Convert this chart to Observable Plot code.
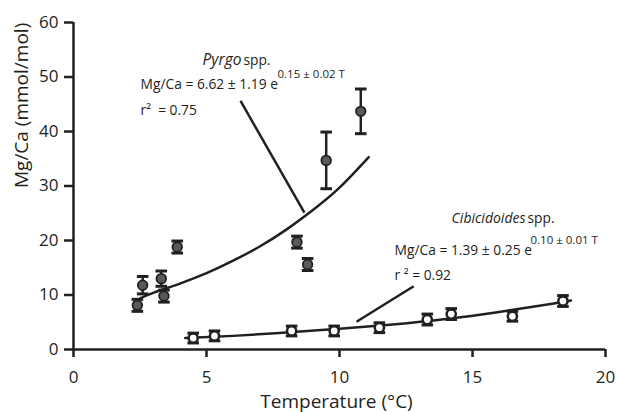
<!DOCTYPE html>
<html><head><meta charset="utf-8">
<script src="https://cdn.jsdelivr.net/npm/d3@7"></script>
<script src="https://cdn.jsdelivr.net/npm/@observablehq/plot@0.6"></script>
<style>body{margin:0;background:#fff}</style>
</head><body><div id="chart"></div>
<script>
// ---- data ----
const xTicks = [0, 5, 10, 15, 20];
const yTicks = [0, 10, 20, 30, 40, 50, 60];

// Pyrgo spp. (grey dots)
const pyrgoT     = [2.4, 2.6, 3.3, 3.4, 3.9, 8.4, 8.8, 9.5, 10.8];
const pyrgoMgCa  = [8.1, 11.8, 13.0, 9.8, 18.8, 19.7, 15.6, 34.7, 43.7];
const pyrgoErr   = [1.1, 1.6, 1.4, 1.1, 1.1, 1.1, 1.1, 5.2, 4.1];

// Cibicidoides spp. (white dots)
const cibT       = [4.5, 5.3, 8.2, 9.8, 11.5, 13.3, 14.2, 16.5, 18.4];
const cibMgCa    = [2.1, 2.5, 3.4, 3.4, 4.0, 5.5, 6.5, 6.1, 8.9];
const cibErr     = [0.9, 0.9, 0.9, 0.9, 0.9, 1.0, 1.0, 0.9, 1.0];

// fitted curves
const pyrgoFitT  = [2.5, 3, 4, 5, 6, 7, 8, 9, 10, 11.1];
const pyrgoFit   = [9.4, 10.4, 12.1, 14.0, 16.3, 18.9, 22.0, 25.6, 29.7, 35.3];
const cibFitT    = [4.2, 6, 8, 10, 12, 14, 16, 18, 18.7];
const cibFit     = [2.1, 2.5, 3.1, 3.8, 4.6, 5.6, 6.9, 8.4, 9.0];

// leader lines from labels to curves
const leaderX1 = [6.28, 10.64];
const leaderY1 = [45.6, 5.1];
const leaderX2 = [8.68, 12.79];
const leaderY2 = [25.1, 11.6];

// ---- build tables ----
const pyrgo = pyrgoT.map((t, i) => ({t, v: pyrgoMgCa[i], lo: pyrgoMgCa[i] - pyrgoErr[i], hi: pyrgoMgCa[i] + pyrgoErr[i]}));
const cib = cibT.map((t, i) => ({t, v: cibMgCa[i], lo: cibMgCa[i] - cibErr[i], hi: cibMgCa[i] + cibErr[i]}));
const pyrgoCurve = pyrgoFitT.map((t, i) => ({t, v: pyrgoFit[i]}));
const cibCurve = cibFitT.map((t, i) => ({t, v: cibFit[i]}));
const leaders = leaderX1.map((x1, i) => ({x1, y1: leaderY1[i], x2: leaderX2[i], y2: leaderY2[i]}));

const ink = "#231f20";
const grey = "#58595b";
const font = "Open Sans";

const capSymbol = {
  draw(ctx, size) {
    const r = Math.sqrt(size / Math.PI);
    ctx.moveTo(-r, 0); ctx.lineTo(r, 0);
  }
};

function errorMarks(data, fill, dotStrokeWidth, r) {
  return [
    Plot.ruleX(data, {x: "t", y1: "lo", y2: "hi", stroke: ink, strokeWidth: 2.5}),
    Plot.dot(data, {x: "t", y: "lo", symbol: capSymbol, r: 5.8, stroke: ink, strokeWidth: 3, fill: "none"}),
    Plot.dot(data, {x: "t", y: "hi", symbol: capSymbol, r: 5.8, stroke: ink, strokeWidth: 3, fill: "none"}),
    Plot.dot(data, {x: "t", y: "v", r, fill, stroke: ink, strokeWidth: dotStrokeWidth})
  ];
}

const txt = (s, x, y, o = {}) => Plot.text([s], {x: () => x, y: () => y, text: d => d, textAnchor: "start", lineAnchor: "bottom", fill: ink, fontSize: 13.8, ...o});

const chart = Plot.plot({
  width: 617,
  height: 412,
  marginLeft: 73,
  marginRight: 12,
  marginTop: 22,
  marginBottom: 63,
  x: {domain: [0, 20]},
  y: {domain: [0, 60]},
  style: {fontFamily: font, color: ink, background: "white"},
  marks: [
    Plot.axisX({ticks: xTicks, tickSize: 8, tickPadding: 13, fontSize: 17, strokeWidth: 2.5, label: null, tickFormat: d => d}),
    Plot.axisY({ticks: yTicks, tickSize: 9, tickPadding: 6, fontSize: 17, strokeWidth: 2.5, label: null, tickFormat: d => d}),
    Plot.ruleX([0], {y1: 0, y2: 60, stroke: ink, strokeWidth: 2.5}),
    Plot.ruleY([0], {x1: 0, x2: 20, stroke: ink, strokeWidth: 2.5}),
    Plot.text(["Temperature (°C)"], {frameAnchor: "bottom", lineAnchor: "bottom", dy: 58, dx: -3, fontSize: 19, fill: ink}),
    Plot.text(["Mg/Ca (mmol/mol)"], {frameAnchor: "left", rotate: -90, dx: -52, dy: 2, fontSize: 19, fill: ink}),
    Plot.line(pyrgoCurve, {x: "t", y: "v", curve: "natural", stroke: ink, strokeWidth: 2.5}),
    Plot.line(cibCurve, {x: "t", y: "v", curve: "natural", stroke: ink, strokeWidth: 2.5}),
    Plot.link(leaders, {x1: "x1", y1: "y1", x2: "x2", y2: "y2", stroke: ink, strokeWidth: 2.5}),
    ...errorMarks(pyrgo, grey, 1.8, 4.8),
    ...errorMarks(cib, "white", 2.5, 4.6),
    // Pyrgo annotation
    txt("Pyrgo", 6.35, 52.2, {textAnchor: "end", dx: -1, fontStyle: "italic", fontSize: 15.5}),
    txt("spp.", 6.35, 52.2, {dx: 1}),
    txt("Mg/Ca = 6.62 ± 1.19 e", 2.52, 47.8),
    txt("0.15 ± 0.02 T", 7.67, 49.8, {fontSize: 11.5}),
    txt("r²  = 0.75", 2.52, 43.1),
    // Cibicidoides annotation
    txt("Cibicidoides", 17.03, 23.3, {textAnchor: "end", dx: -1, fontStyle: "italic", fontSize: 14}),
    txt("spp.", 17.03, 23.3, {dx: 1}),
    txt("Mg/Ca = 1.39 ± 0.25 e", 12.07, 17.3),
    txt("0.10 ± 0.01 T", 17.18, 19.3, {fontSize: 11.5}),
    txt("r ² = 0.92", 12.07, 12.8)
  ]
});
document.getElementById("chart").appendChild(chart);
</script>
</body></html>
